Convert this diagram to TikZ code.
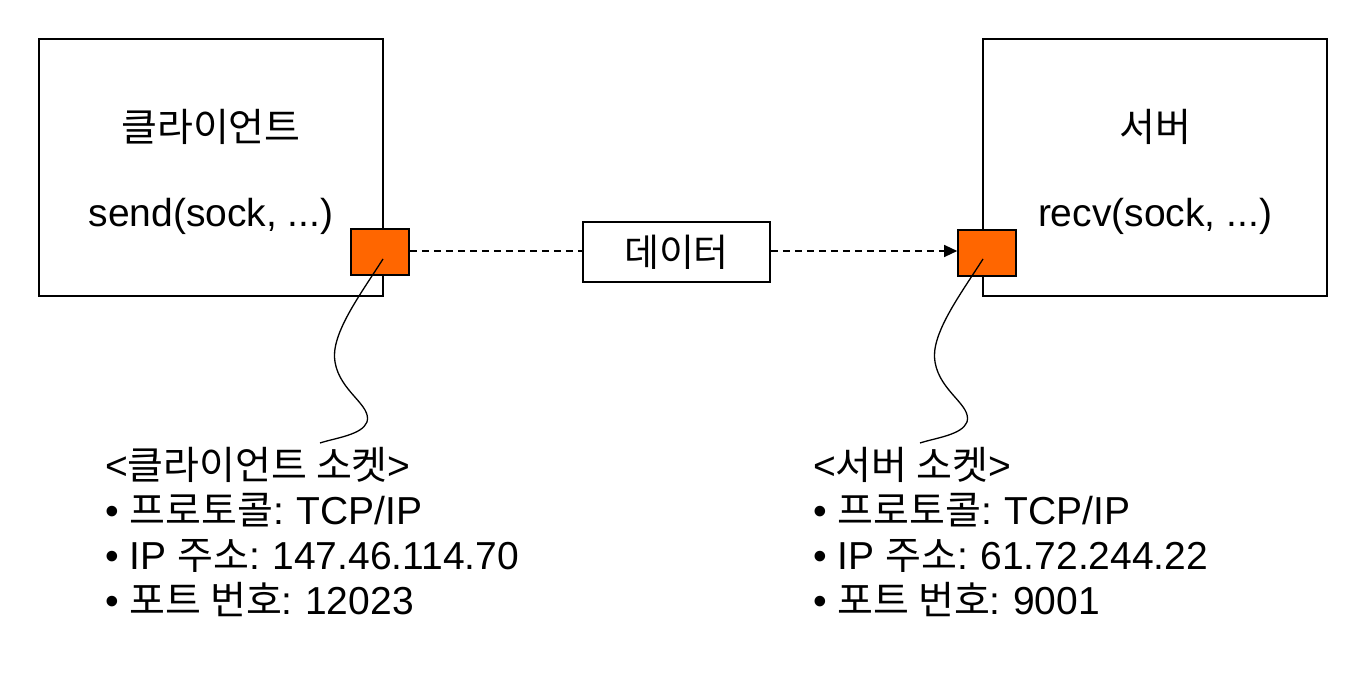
\documentclass[tikz,border=0pt]{standalone}
\usepackage{fontspec}
\setmainfont{Liberation Sans}
\newfontfamily\kr{Noto Sans CJK KR}
\usetikzlibrary{arrows.meta}
\definecolor{sockorange}{HTML}{FF6600}
\tikzset{
  txt/.style={inner sep=0pt, font=\fontsize{39}{46}\selectfont},
  bigbox/.style={draw=black, line width=1.6pt, minimum width=344pt, minimum height=257pt, inner sep=0pt},
  sockbox/.style={draw=black, line width=1.6pt, fill=sockorange, minimum width=58pt, minimum height=46pt, inner sep=0pt},
  databox/.style={draw=black, line width=1.6pt, minimum width=187pt, minimum height=60pt, inner sep=0pt, font=\fontsize{38}{46}\selectfont},
  flow/.style={line width=1.3pt, dash pattern=on 7pt off 5pt},
  callout/.style={line width=1.3pt}
}
\begin{document}
\begin{tikzpicture}[x=1pt,y=-1pt]
\useasboundingbox (0,0) rectangle (1366,679);
% client and server boxes
\node[bigbox] (client) at (211,167.5) {};
\node[bigbox] (server) at (1155,167.5) {};
\node[txt] (clientname) at (211,127) {\kr 클라이언트};
\node[txt] (clientcall) at (211,216) {send(sock, ...)};
\node[txt] (servername) at (1155,127) {\kr 서버};
\node[txt] (servercall) at (1155,216) {recv(sock, ...)};
% sockets
\node[sockbox] (csock) at (380,252) {};
\node[sockbox] (ssock) at (987,253) {};
% data
\node[databox] (data) at (676.5,252) {\kr 데이터};
\draw[flow] (csock.east |- 0,251) -- (data.west |- 0,251);
\draw[flow, -{Triangle[length=13pt,width=12pt]}] (data.east |- 0,251) -- (ssock.west |- 0,251);
% callouts
\coordinate (cend) at (320,443);
\coordinate (send) at (920,443);
\draw[callout] (383,259) coordinate (cstart)
  .. controls (360,295) and (330,335) .. (335,362)
  .. controls (340,392) and (372,405) .. (367,422)
  .. controls (362,435) and (335,438) .. (cend);
\draw[callout] (983,259) coordinate (sstart)
  .. controls (960,295) and (930,335) .. (935,362)
  .. controls (940,392) and (972,405) .. (967,422)
  .. controls (962,435) and (935,438) .. (send);
% client socket text
\node[txt, anchor=base west] (cl1) at (105,479) {<{\kr 클라이언트 소켓}>};
\node[txt, anchor=base west] (cl2) at (105,524) {• {\kr 프로토콜}:\hspace{-0.05em} TCP/IP};
\node[txt, anchor=base west] (cl3) at (105,569) {• IP {\kr 주소}:\hspace{-0.05em} 147.46.114.70};
\node[txt, anchor=base west] (cl4) at (105,614) {• {\kr 포트 번호}:\hspace{-0.05em} 12023};
% server socket text
\node[txt, anchor=base west] (sl1) at (813,479) {<{\kr 서버 소켓}>};
\node[txt, anchor=base west] (sl2) at (813,524) {• {\kr 프로토콜}:\hspace{-0.05em} TCP/IP};
\node[txt, anchor=base west] (sl3) at (813,569) {• IP {\kr 주소}:\hspace{-0.05em} 61.72.244.22};
\node[txt, anchor=base west] (sl4) at (813,614) {• {\kr 포트 번호}:\hspace{-0.05em} 9001};
\end{tikzpicture}
\end{document}
